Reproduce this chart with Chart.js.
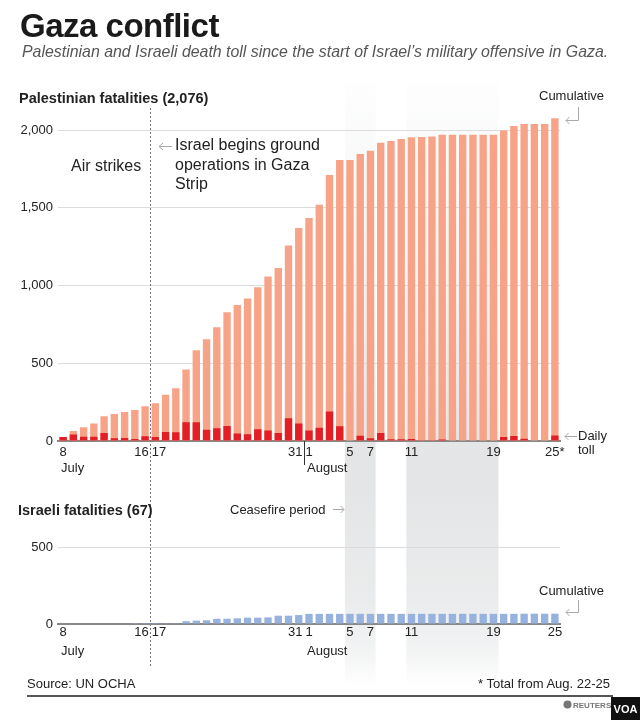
<!DOCTYPE html>
<html>
<head>
<meta charset="utf-8">
<script src="https://cdn.jsdelivr.net/npm/chart.js@4.4.1/dist/chart.umd.min.js"></script>
<style>
  html, body { margin: 0; padding: 0; background: #fff; }
  #page { position: relative; width: 640px; height: 720px; overflow: hidden;
          font-family: "Liberation Sans", Arial, sans-serif; color: #222; }
  canvas { position: absolute; left: 0; top: 0; }
  svg { position: absolute; left: 0; top: 0; }
  .t { position: absolute; white-space: nowrap; line-height: 1; }
</style>
</head>
<body>
<div id="page">
  <canvas id="palChart" width="640" height="720"></canvas>
  <canvas id="isrChart" width="640" height="720"></canvas>

  <div class="t" style="left:20px;top:9px;font-size:33px;font-weight:bold;letter-spacing:-0.5px;color:#1a1a1a">Gaza conflict</div>
  <div class="t" style="left:22px;top:44px;font-size:15.9px;font-style:italic;color:#555">Palestinian and Israeli death toll since the start of Israel’s military offensive in Gaza.</div>

  <div class="t" style="left:19px;top:91px;font-size:14.5px;font-weight:bold">Palestinian fatalities (2,076)</div>
  <div class="t" style="left:71px;top:158px;font-size:16px">Air strikes</div>
  <div class="t" style="left:175px;top:135px;font-size:16px;line-height:19.5px">Israel begins ground<br>operations in Gaza<br>Strip</div>
  <div class="t" style="left:539px;top:89px;font-size:13px">Cumulative</div>
  <div class="t" style="left:578px;top:429px;font-size:13px;line-height:14px">Daily<br>toll</div>

  <div class="t" style="left:18px;top:503px;font-size:14.5px;font-weight:bold">Israeli fatalities (67)</div>
  <div class="t" style="left:230px;top:503px;font-size:13px">Ceasefire period</div>
  <div class="t" style="left:539px;top:584px;font-size:13px">Cumulative</div>

  <div class="t" style="left:27px;top:677px;font-size:13px">Source: UN OCHA</div>
  <div class="t" style="right:30px;top:677px;font-size:13px">* Total from Aug. 22-25</div>

  <svg width="640" height="720">
    <g stroke="#aaa" stroke-width="1" fill="none">
      <path d="M172 146.5 H159 M163 143 L159 146.5 L163 150"/>
      <path d="M578.5 107 V120.5 H566 M569.5 117 L566 120.5 L569.5 124"/>
      <path d="M577 436.5 H565 M568.5 433 L565 436.5 L568.5 440"/>
      <path d="M333 509.5 H344 M340.5 506 L344 509.5 L340.5 513"/>
      <path d="M578.5 600 V612.5 H566 M569.5 609 L566 612.5 L569.5 616"/>
    </g>
    <line x1="27" y1="696" x2="613" y2="696" stroke="#555" stroke-width="2"/>
    <circle cx="567.5" cy="704.5" r="4" fill="#777"/>
    <text x="573" y="708" font-family="Liberation Sans, Arial" font-size="8" font-weight="bold" fill="#777">REUTERS</text>
    <rect x="611" y="697" width="29" height="23" fill="#111"/>
    <text x="625.5" y="713" text-anchor="middle" font-family="Liberation Sans, Arial" font-size="11" font-weight="bold" fill="#fff">VOA</text>
  </svg>
</div>

<script>
// categories: one bar per day, the last one holds Aug. 22-25
const dates = [
  'Jul 8', 'Jul 9', 'Jul 10', 'Jul 11', 'Jul 12', 'Jul 13', 'Jul 14', 'Jul 15', 'Jul 16', 'Jul 17',
  'Jul 18', 'Jul 19', 'Jul 20', 'Jul 21', 'Jul 22', 'Jul 23', 'Jul 24', 'Jul 25', 'Jul 26', 'Jul 27',
  'Jul 28', 'Jul 29', 'Jul 30', 'Jul 31',
  'Aug 1', 'Aug 2', 'Aug 3', 'Aug 4', 'Aug 5', 'Aug 6', 'Aug 7', 'Aug 8', 'Aug 9', 'Aug 10',
  'Aug 11', 'Aug 12', 'Aug 13', 'Aug 14', 'Aug 15', 'Aug 16', 'Aug 17', 'Aug 18', 'Aug 19', 'Aug 20',
  'Aug 21', 'Aug 22', 'Aug 23', 'Aug 24', 'Aug 25'
];

const palCumulative = [
  26, 64, 88, 112, 159, 174, 187, 200, 224, 243,
  297, 340, 460, 583, 654, 731, 828, 875, 916, 989,
  1058, 1112, 1258, 1370,
  1434, 1520, 1710, 1807, 1807, 1845, 1867, 1918, 1929, 1942,
  1953, 1955, 1959, 1970, 1970, 1970, 1970, 1970, 1970, 1996,
  2026, 2039, 2039, 2039, 2076
];

const palDaily = [
  26, 41, 28, 28, 52, 17, 19, 13, 30, 26,
  58, 56, 120, 120, 73, 82, 97, 49, 43, 75,
  67, 52, 146, 112,
  67, 86, 189, 95, 0, 34, 17, 52, 11, 11,
  13, 2, 2, 9, 0, 0, 0, 0, 0, 26,
  32, 15, 0, 0, 36
];

const isrCumulative = [
  0, 0, 0, 0, 0, 0, 0, 1, 1, 1,
  2, 5, 18, 22, 24, 34, 34, 37, 41, 41,
  43, 54, 54, 58,
  66, 66, 66, 66, 66, 66, 66, 66, 66, 66,
  66, 66, 66, 66, 66, 66, 66, 66, 66, 66,
  66, 67, 67, 67, 67
];

// axis labels
const tickDates = ['Jul 8', 'Jul 16', 'Jul 17', 'Jul 31', 'Aug 1', 'Aug 5', 'Aug 7', 'Aug 11', 'Aug 19', 'Aug 25'];
const palTickText = ['8', '16  ', '  17', '31  ', '1', '5', '7', '11', '19', '25*'];
const isrTickText = ['8', '16  ', '  17', '31  ', '1', '5', '7', '11', '19', '25'];
const monthDates = ['Jul 8', 'Aug 1'];
const monthNames = ['July', 'August'];
const palTicks = [0, 500, 1000, 1500, 2000];
const isrTicks = [0, 500];

// annotations
const ceasefires = [['Aug 5', 'Aug 7'], ['Aug 11', 'Aug 19']];
const groundStart = 'Jul 17';
const monthStart = 'Aug 1';

Chart.defaults.font.family = '"Liberation Sans", Arial, sans-serif';
Chart.defaults.font.size = 13;
Chart.defaults.color = '#222';

const idx = (d) => dates.indexOf(d);

// pixel of the boundary just before / after category d
const edgeBefore = (scale, d) => {
  const i = idx(d);
  return (scale.getPixelForValue(i - 1) + scale.getPixelForValue(i)) / 2;
};
const edgeAfter = (scale, d) => {
  const i = idx(d);
  return (scale.getPixelForValue(i) + scale.getPixelForValue(i + 1)) / 2;
};

const ceasefireBands = {
  id: 'ceasefireBands',
  beforeDraw(chart) {
    const { ctx } = chart;
    const x = chart.scales.x;
    const g = ctx.createLinearGradient(0, 82, 0, 686);
    g.addColorStop(0, 'rgba(226,228,229,0.03)');
    g.addColorStop(0.11, 'rgba(226,228,229,0.2)');
    g.addColorStop(0.36, 'rgba(226,228,229,0.45)');
    g.addColorStop(0.59, 'rgba(226,228,229,0.95)');
    g.addColorStop(0.68, 'rgba(226,228,229,0.95)');
    g.addColorStop(0.86, 'rgba(226,228,229,0.7)');
    g.addColorStop(0.94, 'rgba(226,228,229,0.45)');
    g.addColorStop(1, 'rgba(226,228,229,0)');
    ctx.save();
    ctx.fillStyle = g;
    ceasefires.forEach(([a, b]) => {
      const x0 = edgeBefore(x, a);
      const x1 = edgeAfter(x, b);
      ctx.fillRect(x0, 82, x1 - x0, 604);
    });
    ctx.restore();
  },
  afterDatasetsDraw(chart) {
    const { ctx, chartArea } = chart;
    const x = chart.scales.x;
    ctx.save();
    // start of ground operations
    const gx = Math.round(edgeBefore(x, groundStart)) + 0.5;
    ctx.strokeStyle = '#777';
    ctx.lineWidth = 1;
    ctx.setLineDash([2, 2]);
    ctx.beginPath();
    ctx.moveTo(gx, 108);
    ctx.lineTo(gx, 667);
    ctx.stroke();
    // July / August divider
    const mx = Math.round(edgeBefore(x, monthStart)) + 0.5;
    ctx.setLineDash([]);
    ctx.strokeStyle = '#333';
    ctx.beginPath();
    ctx.moveTo(mx, chartArea.bottom);
    ctx.lineTo(mx, chartArea.bottom + 24);
    ctx.stroke();
    ctx.restore();
  }
};

const monthLabels = {
  id: 'monthLabels',
  afterDraw(chart) {
    const { ctx, chartArea } = chart;
    const x = chart.scales.x;
    ctx.save();
    ctx.font = '13px "Liberation Sans", Arial, sans-serif';
    ctx.fillStyle = '#222';
    ctx.textAlign = 'left';
    ctx.textBaseline = 'middle';
    monthDates.forEach((d, k) => {
      ctx.fillText(monthNames[k], x.getPixelForValue(idx(d)) - 2, chartArea.bottom + 27);
    });
    ctx.restore();
  }
};

function tickText(i, texts) {
  const k = tickDates.indexOf(dates[i]);
  return k >= 0 ? texts[k] : '';
}

function barChart(id, datasets, yMax, yTicks, tickTexts, pad, tickPad, extraPlugins) {
  return new Chart(document.getElementById(id), {
    type: 'bar',
    data: { labels: dates, datasets },
    options: {
      responsive: false,
      animation: false,
      events: [],
      layout: { padding: pad },
      scales: {
        x: {
          grid: { display: false, drawTicks: false },
          border: { display: true, color: '#888', width: 2 },
          ticks: {
            autoSkip: false, maxRotation: 0, minRotation: 0, padding: tickPad,
            callback: (v, i) => tickText(i, tickTexts)
          },
          afterFit: (a) => { a.height = 30; }
        },
        y: {
          min: 0, max: yMax,
          grid: { color: '#dcdcdc', lineWidth: 1, drawTicks: false },
          border: { display: false },
          ticks: { padding: 5, callback: (v) => v.toLocaleString('en-US') },
          afterBuildTicks: (a) => { a.ticks = yTicks.map((v) => ({ value: v })); },
          afterFit: (a) => { a.width = 58; }
        }
      },
      plugins: { legend: { display: false }, tooltip: { enabled: false } }
    },
    plugins: [monthLabels].concat(extraPlugins)
  });
}

const barStyle = { grouped: false, barPercentage: 1, categoryPercentage: 0.72, borderWidth: 0 };

// Palestinian: 0 at y=441, 2,000 at y=130
barChart('palChart', [
  Object.assign({ label: 'Daily toll', data: palDaily, backgroundColor: '#E31E24', order: 1 }, barStyle),
  Object.assign({ label: 'Cumulative', data: palCumulative, backgroundColor: '#F7A388', order: 2 }, barStyle)
], 2100, palTicks, palTickText,
  { left: 0, right: 80, top: 114.45, bottom: 249 }, 4, [ceasefireBands]);

// Israeli: 0 at y=624, 500 at y=547
barChart('isrChart', [
  Object.assign({ label: 'Cumulative', data: isrCumulative, backgroundColor: '#97B2DE' }, barStyle)
], 500, isrTicks, isrTickText,
  { left: 0, right: 80, top: 547, bottom: 66 }, 1, []);
</script>
</body>
</html>
